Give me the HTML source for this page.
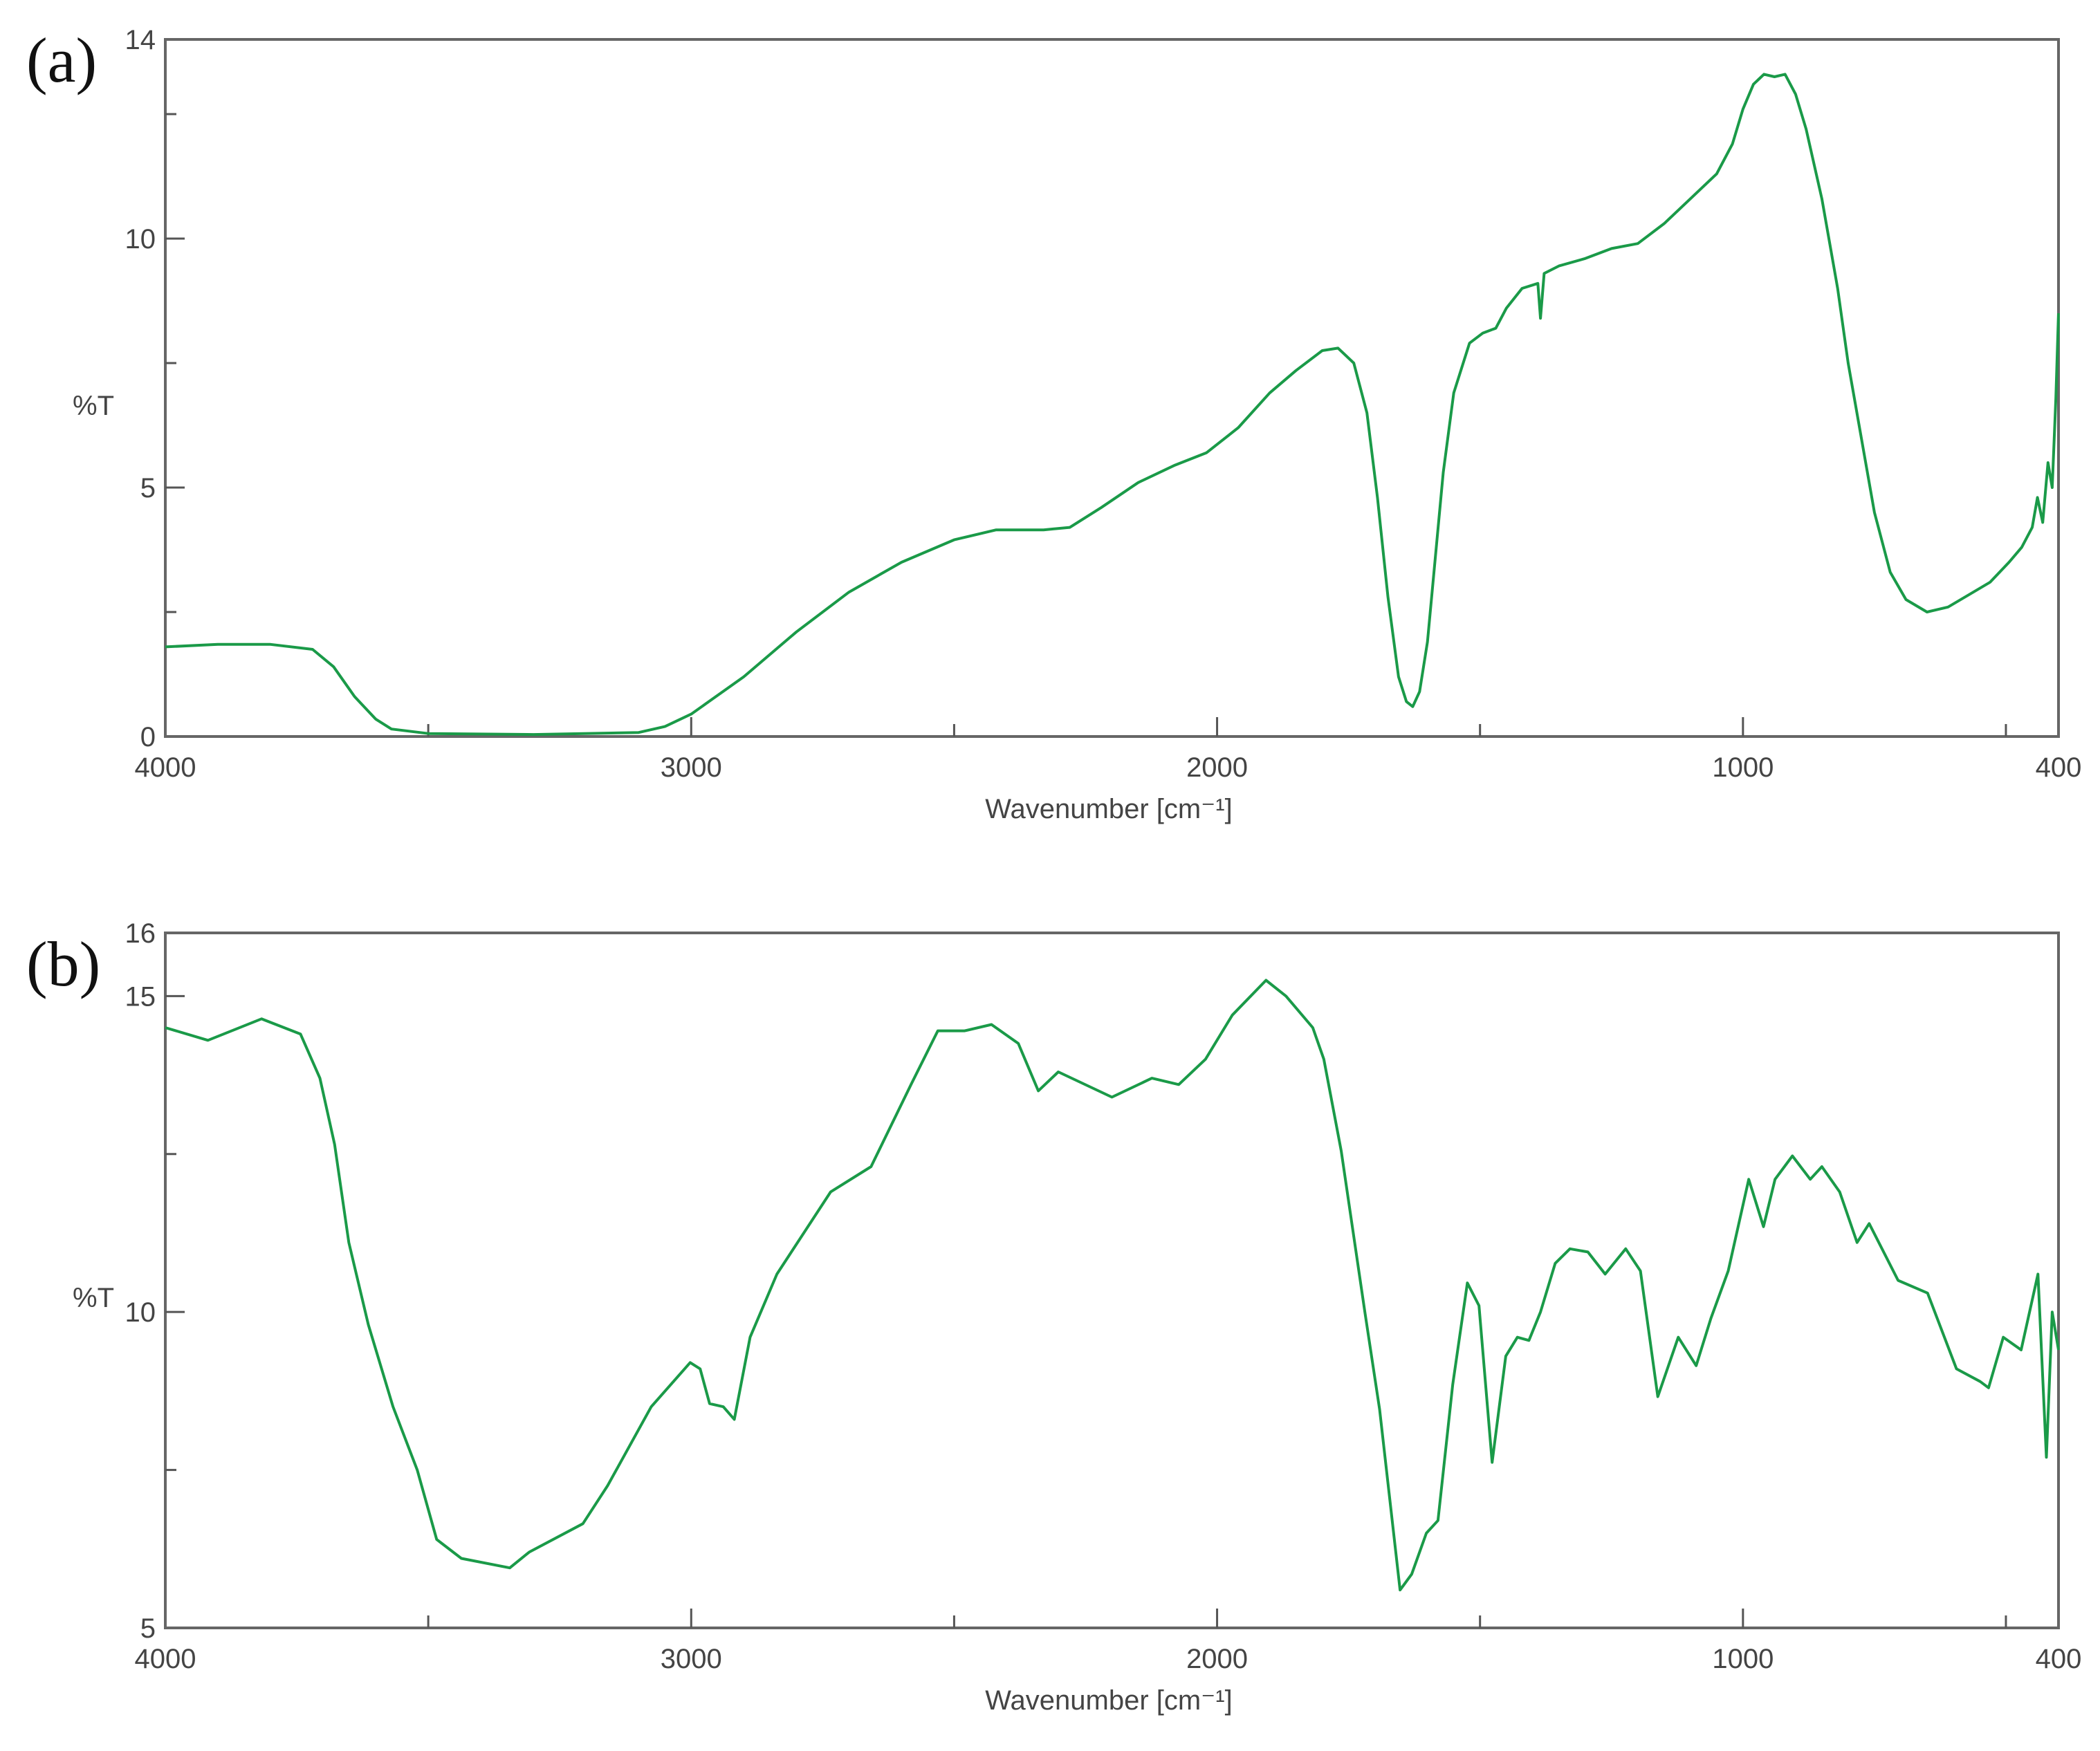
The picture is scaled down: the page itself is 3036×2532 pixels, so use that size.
<!DOCTYPE html>
<html><head><meta charset="utf-8"><style>
html,body{margin:0;padding:0;background:#fff;}
svg{display:block;}
text{font-family:"Liberation Sans",sans-serif;fill:#444;}
.panel{font-family:"Liberation Serif",serif;fill:#111;}
</style></head><body>
<svg id="chart" width="3036" height="2532" viewBox="0 0 3036 2532" xmlns="http://www.w3.org/2000/svg"></svg>
<script>
// Panel (a) data
const wnA = [4000,3900,3800,3720,3680,3640,3600,3570,3500,3300,3100,3050,3000,2900,2800,2700,2600,2500,2420,2330,2280,2220,2150,2080,2020,1960,1900,1850,1800,1770,1740,1715,1695,1675,1655,1640,1628,1615,1600,1585,1570,1550,1520,1495,1470,1450,1420,1390,1385,1378,1350,1300,1250,1200,1150,1100,1050,1020,1000,980,960,940,920,900,880,850,820,800,775,750,720,690,650,610,570,530,494,470,450,440,430,420,412,405,400];
const tA = [1.8,1.85,1.85,1.75,1.4,0.8,0.35,0.15,0.06,0.04,0.08,0.2,0.45,1.2,2.1,2.9,3.5,3.95,4.15,4.15,4.2,4.6,5.1,5.45,5.7,6.2,6.9,7.35,7.75,7.8,7.5,6.5,4.8,2.8,1.2,0.7,0.6,0.9,1.9,3.6,5.3,6.9,7.9,8.1,8.2,8.6,9.0,9.1,8.4,9.3,9.45,9.6,9.8,9.9,10.3,10.8,11.3,11.9,12.6,13.1,13.3,13.25,13.3,12.9,12.2,10.8,9.0,7.5,6.0,4.5,3.3,2.75,2.5,2.6,2.85,3.1,3.5,3.8,4.2,4.8,4.3,5.5,5.0,6.8,8.5];
// Panel (b) data
const wnB = [4000,3919,3817,3743,3706,3678,3651,3614,3567,3521,3484,3437,3345,3308,3206,3159,3076,3002,2983,2965,2939,2918,2888,2837,2735,2658,2582,2531,2480,2429,2378,2340,2302,2200,2124,2073,2022,1971,1907,1869,1818,1797,1764,1719,1691,1652,1630,1602,1580,1552,1524,1502,1477,1451,1429,1407,1385,1357,1329,1295,1262,1223,1195,1162,1123,1089,1061,1028,989,961,939,906,872,850,816,783,760,705,649,594,549,533,505,471,439,423,412,400];
const tB = [14.5,14.3,14.64,14.4,13.7,12.65,11.1,9.8,8.5,7.5,6.4,6.1,5.95,6.2,6.65,7.25,8.5,9.2,9.1,8.55,8.5,8.3,9.6,10.6,11.9,12.3,13.6,14.45,14.45,14.55,14.25,13.5,13.8,13.4,13.7,13.6,14.0,14.7,15.25,15.0,14.5,14.0,12.55,10.0,8.46,5.6,5.85,6.5,6.7,8.85,10.46,10.1,7.62,9.3,9.6,9.55,10.0,10.77,11.0,10.95,10.6,11.0,10.65,8.66,9.6,9.15,9.9,10.65,12.1,11.35,12.1,12.47,12.1,12.3,11.9,11.1,11.4,10.5,10.3,9.1,8.9,8.8,9.6,9.4,10.6,7.7,10.0,9.4];
const xTicksMajor = [4000,3000,2000,1000,400];
const xTicksMinor = [3500,2500,1500,500];
const yTicksA = [14,10,5,0];
const yMinorA = [12.5,7.5,2.5];
const yTicksB = [16,15,10,5];
const yMinorB = [12.5,7.5];

const NS = "http://www.w3.org/2000/svg";
const svg = document.getElementById('chart');
function mk(tag, attrs, parent){
  const e = document.createElementNS(NS, tag);
  for (const k in attrs) e.setAttribute(k, attrs[k]);
  (parent||svg).appendChild(e);
  return e;
}
const L = 239, R = 2976;
function xScale(w){ return L + (4000 - w) / 3600 * (R - L); }

function panel(cfg){
  const g = mk('g', {});
  
  
  const yS = v => cfg.bottom - (v - cfg.ymin) / (cfg.ymax - cfg.ymin) * (cfg.bottom - cfg.top);
  const fr = mk('rect', {x:L, y:cfg.top, width:R-L, height:cfg.bottom-cfg.top, fill:'none', stroke:'#666', 'stroke-width':4}, g);
  
  
  xTicksMajor.forEach(t => {
    const x = xScale(t);
    if (t !== 4000 && t !== 400) {
      const tk = mk('line', {x1:x, x2:x, y1:cfg.bottom, y2:cfg.bottom-28, stroke:'#555', 'stroke-width':3}, g);
      
      
    }
    const tx = mk('text', {x:x, y:cfg.bottom+58, 'font-size':40, 'text-anchor':'middle'}, g);
    tx.textContent = t;
    
    
  });
  xTicksMinor.forEach(t => {
    const x = xScale(t);
    const tk = mk('line', {x1:x, x2:x, y1:cfg.bottom, y2:cfg.bottom-18, stroke:'#555', 'stroke-width':3}, g);
    
    
  });
  cfg.yTicks.forEach(t => {
    const y = yS(t);
    if (t !== cfg.ymin && t !== cfg.ymax) {
      const tk = mk('line', {x1:L, x2:L+28, y1:y, y2:y, stroke:'#555', 'stroke-width':3}, g);
      
      
    }
    const tx = mk('text', {x:L-14, y:y+14, 'font-size':40, 'text-anchor':'end'}, g);
    tx.textContent = t;
    
    
  });
  cfg.yMinor.forEach(t => {
    const y = yS(t);
    const tk = mk('line', {x1:L, x2:L+16, y1:y, y2:y, stroke:'#555', 'stroke-width':3}, g);
    
    
  });
  const yt = mk('text', {x:105, y:cfg.ylabelY, 'font-size':40}, g);
  yt.textContent = '%T';
  
  
  const xt = mk('text', {x:1603, y:cfg.bottom+118, 'font-size':40, 'text-anchor':'middle'}, g);
  xt.textContent = 'Wavenumber [cm\u207B\u00B9]';
  
  
  const pl = mk('text', {x:38, y:cfg.labelY, 'font-size':92, 'class':'panel'}, g);
  pl.textContent = cfg.label;
  
  
  let d = '';
  cfg.xs.forEach((w, i) => { d += (i ? 'L' : 'M') + xScale(w).toFixed(1) + ',' + yS(cfg.ys[i]).toFixed(1); });
  const p = mk('path', {d:d, fill:'none', stroke:'#1a9a48', 'stroke-width':4, 'stroke-linejoin':'round'}, g);
  
  
}

panel({name:'panel-a', label:'(a)', labelY:118, top:57, bottom:1065, ymin:0, ymax:14, yTicks:yTicksA, yMinor:yMinorA, xs:wnA, ys:tA, ylabelY:600});
panel({name:'panel-b', label:'(b)', labelY:1425, top:1349, bottom:2354, ymin:5, ymax:16, yTicks:yTicksB, yMinor:yMinorB, xs:wnB, ys:tB, ylabelY:1890});
</script>
</body></html>
